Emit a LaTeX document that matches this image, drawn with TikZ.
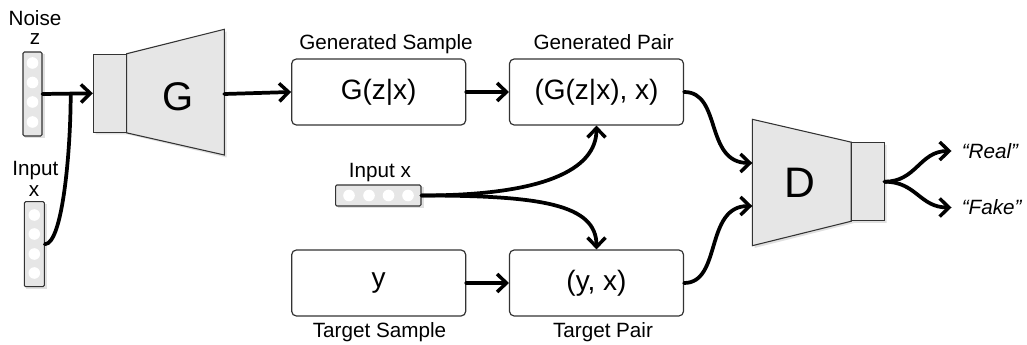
\documentclass[tikz,border=0pt]{standalone}
\usepackage{fontspec}
\setmainfont{Liberation Sans}
\usetikzlibrary{arrows.meta}
\definecolor{bodygray}{HTML}{E6E6E6}
\definecolor{edgegray}{HTML}{333333}
\begin{document}
\begin{tikzpicture}[x=0.75pt,y=-0.75pt,
  flow/.style={line width=2.8pt, line cap=round, draw=black},
  arr/.style={flow, -{Straight Barb[length=7pt,width=13.5pt,line width=2.6pt]}},
  stagebox/.style={draw=edgegray, line width=0.9pt, rounded corners=3.5pt, fill=white,
    minimum width=130.5pt, minimum height=49.5pt, inner sep=0pt, font=\fontsize{21}{24}\selectfont},
  vecbox/.style={draw=edgegray, line width=0.8pt, fill=bodygray, rounded corners=1pt, inner sep=0pt},
  dot/.style={fill=white, draw=none},
  netbody/.style={draw=edgegray, line width=0.8pt, fill=bodygray},
  netshadow/.style={fill=black, opacity=0.12, draw=none},
  caption/.style={font=\fontsize{15.5}{18}\selectfont, anchor=base, inner sep=0pt},
  netletter/.style={inner sep=0pt},
  verdict/.style={font=\fontsize{15.5}{18}\selectfont\itshape, anchor=west, inner xsep=7.5pt, inner ysep=0pt}
]
\useasboundingbox (0,0) rectangle (1027,345);

% ---- input vectors (noise z and condition x) ----
\fill[netshadow] (25,54) rectangle (44.5,138.5);
\node[vecbox, minimum width=14.25pt, minimum height=63pt] (zv) at (32.5,94) {};
\foreach \yy in {63,82.5,102,122} \fill[dot] (32.5,\yy) circle (5.8);
\node[caption] (noiselbl) at (35,26) {Noise};
\node[caption] (zlbl) at (35,45) {z};

\fill[netshadow] (26.3,203.7) rectangle (46.8,289.2);
\node[vecbox, minimum width=15pt, minimum height=63.75pt] (xv) at (34.3,244.2) {};
\foreach \yy in {215,234,254,273} \fill[dot] (34.3,\yy) circle (5.8);
\node[caption] (inputlbl) at (35.3,176) {Input};
\node[caption] (xlbl) at (34,197) {x};

% ---- generator G ----
\fill[netshadow] (95.5,56.5) -- (128,56.5) -- (226.5,31.5) -- (226.5,157.5) -- (128,134.5) -- (95.5,134.5) -- cycle;
\node[netbody, minimum width=24.5pt, minimum height=58.5pt, inner sep=0pt] (gin) at (109.7,93.3) {};
\draw[netbody] (gin.north east) -- (224.3,29.3) -- (224.3,155) -- (gin.south east) -- cycle;
\node[netletter, font=\fontsize{30}{33}\selectfont] (G) at (178,97) {G};
\coordinate (gout) at (224.3,94);
\coordinate (join) at (70.7,94);

% ---- sample and pair boxes ----
\node[stagebox] (gs) at (378.7,92) {G(z|x)};
\node[stagebox] (gp) at (596.5,92) {(G(z|x), x)};
\node[stagebox] (ts) at (378.7,283) {y};
\node[stagebox] (tp) at (596.5,283) {(y, x)};
\node[caption] (gslbl) at (386,50) {Generated Sample};
\node[caption] (gplbl) at (603.7,50) {Generated Pair};
\node[caption] (tslbl) at (379.5,337) {Target Sample};
\node[caption] (tplbl) at (603,337) {Target Pair};

% ---- condition x fed to both pairs ----
\fill[netshadow] (337.9,187.2) rectangle (423.5,208.5);
\node[vecbox, minimum width=64pt, minimum height=15.75pt] (hx) at (378.3,195.5) {};
\foreach \xx in {349,369,388.5,408} \fill[dot] (\xx,195.5) circle (5.8);
\node[caption] (hxlbl) at (380,177.3) {Input x};

% ---- discriminator D ----
\fill[netshadow] (754.5,121.5) -- (854,145) -- (886.5,145) -- (886.5,223) -- (854,223) -- (754.5,248) -- cycle;
\node[netbody, minimum width=24.2pt, minimum height=58.5pt, inner sep=0pt] (dout) at (867.9,181.7) {};
\draw[netbody] (dout.north west) -- (752.3,119.3) -- (752.3,245.7) -- (dout.south west) -- cycle;
\node[netletter, font=\fontsize{32}{35}\selectfont] (D) at (800,183) {D};
\coordinate (din1) at (752.3,163);
\coordinate (din2) at (752.3,206);

\node[verdict] (real) at (951.5,151) {“Real”};
\node[verdict] (fake) at (951.5,207.5) {“Fake”};

% ---- connectors ----
\draw[arr] (zv.east) -- (gin.west);
\draw[flow] (xv.east) .. controls +(18,0) and +(0,55) .. (join);
\draw[arr] (gout) -- (gs.west);
\draw[arr] (gs.east) -- (gp.west);
\draw[arr] (ts.east) -- (tp.west);
\draw[arr] (hx.east) .. controls +(120,0) and +(0,45) .. (gp.south);
\draw[arr] (hx.east) .. controls +(120,0) and +(0,-45) .. (tp.north);
\draw[arr] (gp.east) .. controls +(38,0) and +(-48,0) .. (din1);
\draw[arr] (tp.east) .. controls +(38,0) and +(-48,0) .. (din2);
\draw[arr] (dout.east) .. controls +(32,0) and +(-32,0) .. (real.west);
\draw[arr] (dout.east) .. controls +(32,0) and +(-32,0) .. (fake.west);
\end{tikzpicture}
\end{document}
